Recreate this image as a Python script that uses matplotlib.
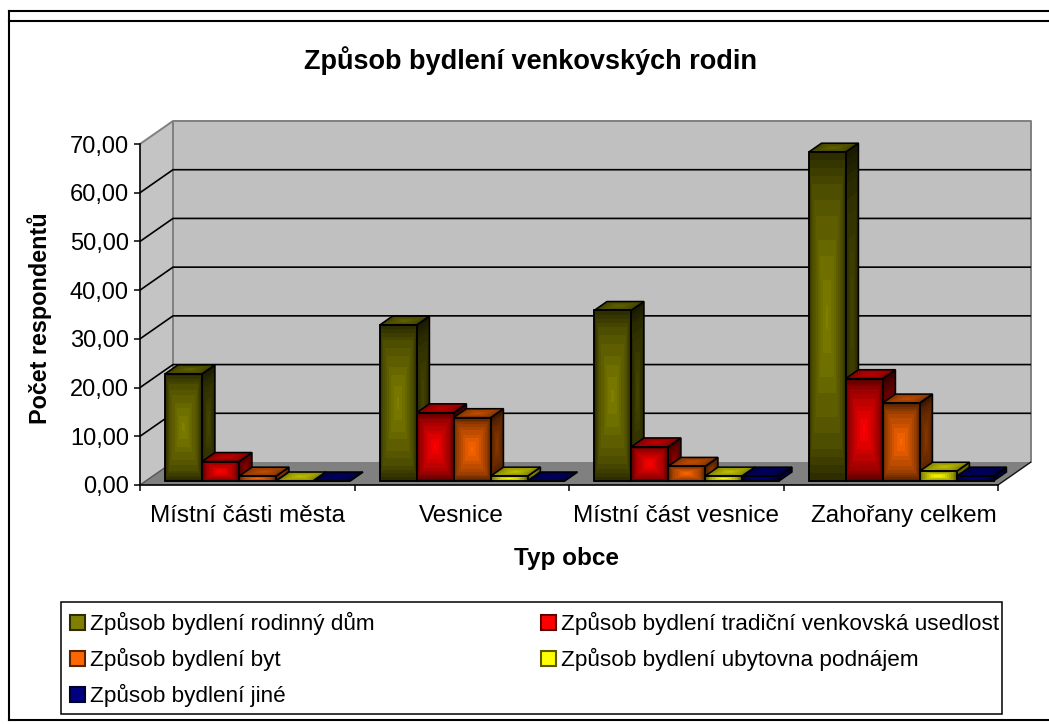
import numpy as np
import matplotlib
matplotlib.use("Agg")
import matplotlib.pyplot as plt
from matplotlib.lines import Line2D
from matplotlib.patches import Patch, Rectangle

plt.rcParams['font.family'] = ['Liberation Sans', 'DejaVu Sans']

# Data
categories = ["Místní části města", "Vesnice", "Místní část vesnice", "Zahořany celkem"]
rodinny_dum = [22, 32, 35, 67.5]
usedlost = [4, 14, 7, 21]
byt = [1, 13, 3, 16]
ubytovna = [0, 1, 1, 2]
jine = [0, 0, 1, 1]
series = [rodinny_dum, usedlost, byt, ubytovna, jine]
names = ["Způsob bydlení rodinný dům", "Způsob bydlení tradiční venkovská usedlost",
         "Způsob bydlení byt", "Způsob bydlení ubytovna podnájem", "Způsob bydlení jiné"]
colors = [(0.5, 0.5, 0), (1, 0, 0), (1, 0.4, 0), (1, 1, 0), (0, 0, 0.5)]
yticks = [0, 10, 20, 30, 40, 50, 60, 70]
ytick_labels = ["0,00", "10,00", "20,00", "30,00", "40,00", "50,00", "60,00", "70,00"]

W, H = 1049, 724
fig = plt.figure(figsize=(W / 100, H / 100), dpi=100)
ax = fig.add_axes([140 / W, 1 - 485 / H, (1031 - 140) / W, (485 - 121) / H])

# Pseudo 3D geometry
cat_px = 214.5
y_px = 341 / 70
dx = 33 / cat_px
dy = 23 / y_px
ax.set_xlim(0, 4 + dx)
ax.set_ylim(0, 70 + dy)
ax.patch.set_alpha(0)

bar_w = 37 / cat_px
bar_start = 0.09
f_front = 0.174
f_back = 0.565
n_cells = 41


def shade(color, low, high, steps=10):
    u = np.linspace(-1, 1, n_cells)[:, None]
    v = np.linspace(-1, 1, n_cells)[None, :]
    t = 1 - np.maximum(np.abs(u), np.abs(v))
    t = np.round(t ** 0.65 * steps) / steps
    k = low + (high - low) * t
    return k[:, :, None] * np.array(color)


def face(p0, p1, p2, p3, color, low, high, z):
    # p0-p1 bottom edge, p3-p2 top edge
    s = np.linspace(0, 1, n_cells + 1)[None, :]
    r = np.linspace(0, 1, n_cells + 1)[:, None]
    p0, p1, p2, p3 = map(np.array, (p0, p1, p2, p3))
    X = (1 - r) * ((1 - s) * p0[0] + s * p1[0]) + r * ((1 - s) * p3[0] + s * p2[0])
    Y = (1 - r) * ((1 - s) * p0[1] + s * p1[1]) + r * ((1 - s) * p3[1] + s * p2[1])
    ax.pcolormesh(X, Y, shade(color, low, high), zorder=z, antialiased=False, linewidth=0)
    ax.fill([p0[0], p1[0], p2[0], p3[0]], [p0[1], p1[1], p2[1], p3[1]], fill=False,
            edgecolor='black', lw=1.1, zorder=z + 0.1, joinstyle='miter')


# Walls and floor
ax.fill([0, dx, dx, 0], [0, dy, 70 + dy, 70], color='#c4c4c4', zorder=1, lw=0)
ax.fill([dx, 4 + dx, 4 + dx, dx], [dy, dy, 70 + dy, 70 + dy], color='#c0c0c0', zorder=1, lw=0)
ax.fill([0, 4, 4 + dx, dx], [0, 0, dy, dy], color='#808080', zorder=1, lw=0)
ax.plot([0, dx, 4 + dx, 4 + dx], [70, 70 + dy, 70 + dy, dy], color='#808080', lw=1.4, zorder=2, clip_on=False)
ax.plot([dx, dx], [dy, 70 + dy], color='#808080', lw=1.4, zorder=2)
ax.plot([0, dx], [0, dy], color='#555555', lw=1, zorder=2)
ax.plot([4, 4 + dx], [0, dy], color='#111111', lw=1, zorder=2)
for t in yticks[1:-1]:
    ax.plot([0, dx, 4 + dx], [t, t + dy, t + dy], color='black', lw=1.2, zorder=2)

# Bars, painted left to right
z = 3
for c in range(len(categories)):
    for i, vals in enumerate(series):
        col = colors[i]
        v = vals[c]
        x0 = c + bar_start + i * bar_w + f_front * dx
        x1 = x0 + bar_w
        b = f_front * dy
        ox = (f_back - f_front) * dx
        oy = (f_back - f_front) * dy
        # side
        face((x1, b), (x1 + ox, b + oy), (x1 + ox, b + oy + v), (x1, b + v), col, 0.2, 0.55, z)
        # top
        face((x0, b + v), (x1, b + v), (x1 + ox, b + oy + v), (x0 + ox, b + oy + v), col, 0.45, 0.75, z + 0.2)
        # front
        face((x0, b), (x1, b), (x1, b + v), (x0, b + v), col, 0.35, 1.0, z + 0.4)
        ax.bar(x0, v, bar_w, bottom=b, align='edge', fill=False, edgecolor='black', lw=1.1, zorder=z + 0.6)
        z += 1

# Axes
for s in ['top', 'right']:
    ax.spines[s].set_visible(False)
ax.spines['left'].set_bounds(0, 70)
ax.spines['bottom'].set_bounds(0, 4)
for s in ['left', 'bottom']:
    ax.spines[s].set_linewidth(1.2)
    ax.spines[s].set_zorder(1000)
ax.set_yticks(yticks)
ax.set_yticklabels(ytick_labels, fontsize=17)
ax.set_xticks([0, 1, 2, 3, 4])
ax.set_xticklabels([])
ax.set_xticks([0.5, 1.5, 2.5, 3.56], minor=True)
ax.set_xticklabels(categories, minor=True, fontsize=17.5)
ax.tick_params(axis='y', length=4, width=1.1, pad=4)
ax.tick_params(axis='x', which='major', length=4, width=1.1)
ax.tick_params(axis='x', which='minor', length=0, pad=14.5)

# Titles
fig.text(531 / W, 1 - 61 / H, "Způsob bydlení venkovských rodin", fontsize=19.5, fontweight='bold',
         ha='center', va='center')
fig.text(567 / W, 1 - 558 / H, "Typ obce", fontsize=17.5, fontweight='bold', ha='center', va='center')
fig.text(40 / W, 1 - 318 / H, "Počet respondentů", fontsize=16.8, fontweight='bold', rotation=90,
         ha='center', va='center')

# Legend, filled by columns
fig.add_artist(Rectangle((61 / W, 1 - 714 / H), (1002 - 61) / W, (714 - 602) / H, fill=False,
                         edgecolor='black', lw=1.1, transform=fig.transFigure))
order = [0, 2, 4, 1, 3]
handles = [Patch(facecolor=colors[i], edgecolor=tuple(0.35 * np.array(colors[i])), lw=1.5) for i in order]
leg = fig.legend(handles, [names[i] for i in order], ncol=2, loc='upper left',
                 bbox_to_anchor=(70 / W, 1 - 612 / H), fontsize=16.2, frameon=False,
                 borderpad=0, labelspacing=0.58, handlelength=0.67,
                 handleheight=0.67, handletextpad=0.22, columnspacing=7.4, borderaxespad=0)

# Outer frame
frame = [([9, 9], [11, 720]), ([9, W], [11, 11]), ([9, W], [21, 21]), ([9, W], [720, 720])]
for xs, ys in frame:
    fig.add_artist(Line2D([x / W for x in xs], [1 - y / H for y in ys], color='black', lw=1.5))

fig.savefig("out.png", dpi=100)
